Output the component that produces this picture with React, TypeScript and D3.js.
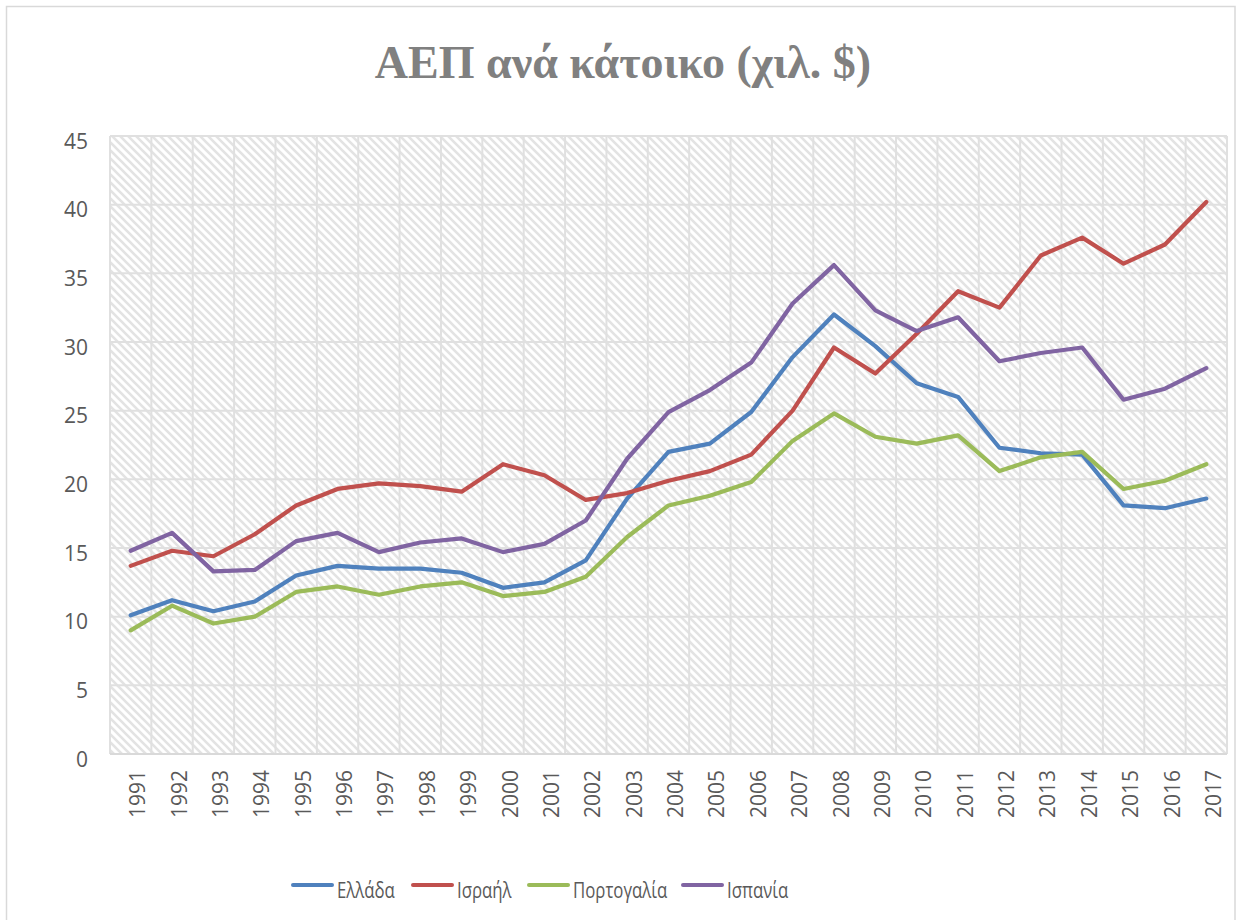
import { useEffect, useRef } from "react";
import * as d3 from "d3";

const years = [
  "1991", "1992", "1993", "1994", "1995", "1996", "1997", "1998", "1999",
  "2000", "2001", "2002", "2003", "2004", "2005", "2006", "2007", "2008",
  "2009", "2010", "2011", "2012", "2013", "2014", "2015", "2016", "2017",
];

const greece = [
  10.1, 11.2, 10.4, 11.1, 13.0, 13.7, 13.5, 13.5, 13.2, 12.1, 12.5, 14.1, 18.6,
  22.0, 22.6, 24.9, 28.9, 32.0, 29.7, 27.0, 26.0, 22.3, 21.9, 21.8, 18.1, 17.9, 18.6,
];
const israel = [
  13.7, 14.8, 14.4, 16.0, 18.1, 19.3, 19.7, 19.5, 19.1, 21.1, 20.3, 18.5, 19.0,
  19.9, 20.6, 21.8, 25.0, 29.6, 27.7, 30.6, 33.7, 32.5, 36.3, 37.6, 35.7, 37.1, 40.2,
];
const portugal = [
  9.0, 10.8, 9.5, 10.0, 11.8, 12.2, 11.6, 12.2, 12.5, 11.5, 11.8, 12.9, 15.8,
  18.1, 18.8, 19.8, 22.8, 24.8, 23.1, 22.6, 23.2, 20.6, 21.6, 22.0, 19.3, 19.9, 21.1,
];
const spain = [
  14.8, 16.1, 13.3, 13.4, 15.5, 16.1, 14.7, 15.4, 15.7, 14.7, 15.3, 17.0, 21.5,
  24.9, 26.5, 28.5, 32.8, 35.6, 32.3, 30.8, 31.8, 28.6, 29.2, 29.6, 25.8, 26.6, 28.1,
];

const yTickValues = [0, 5, 10, 15, 20, 25, 30, 35, 40, 45];

const seriesNames = ["Ελλάδα", "Ισραήλ", "Πορτογαλία", "Ισπανία"];
const seriesValues = [greece, israel, portugal, spain];
const seriesColors = ["#4F81BD", "#C0504D", "#9BBB59", "#8064A2"];

export default function App() {
  const ref = useRef<SVGSVGElement | null>(null);
  const width = 1236;
  const height = 920;

  useEffect(() => {
    const svg = d3.select(ref.current);
    svg.selectAll("*").remove();

    const left = 110;
    const right = 1227;
    const top = 136;
    const bottom = 754;
    const font = "'Open Sans', 'Noto Sans', sans-serif";

    const x = d3.scaleBand<string>().domain(years).range([left, right]);
    const y = d3.scaleLinear().domain([0, 45]).range([bottom, top]);
    const cx = (i: number) => (x(years[i]) ?? 0) + x.bandwidth() / 2;

    // hatch pattern (wide downward diagonal)
    const defs = svg.append("defs");
    const pat = defs
      .append("pattern")
      .attr("id", "hatch")
      .attr("patternUnits", "userSpaceOnUse")
      .attr("width", 8)
      .attr("height", 8);
    pat.append("rect").attr("width", 8).attr("height", 8).attr("fill", "#fff");
    pat
      .append("path")
      .attr("d", "M-2,-2 L10,10 M-2,6 L2,10 M6,-2 L10,2")
      .attr("stroke", "#e3e3e3")
      .attr("stroke-width", 2.6);

    // outer chart border
    svg
      .append("rect")
      .attr("x", 6.5)
      .attr("y", 6.5)
      .attr("width", 1228.5)
      .attr("height", 930)
      .attr("fill", "#fff")
      .attr("stroke", "#d9d9d9")
      .attr("stroke-width", 1.5);

    svg
      .append("text")
      .attr("x", 623)
      .attr("y", 78)
      .attr("text-anchor", "middle")
      .attr("font-family", "'Liberation Serif', 'DejaVu Serif', serif")
      .attr("font-weight", 700)
      .attr("font-size", 46)
      .attr("fill", "#808080")
      .text("ΑΕΠ ανά κάτοικο (χιλ. $)");

    // plot background
    svg
      .append("rect")
      .attr("x", left)
      .attr("y", top)
      .attr("width", right - left)
      .attr("height", bottom - top)
      .attr("fill", "url(#hatch)");

    // gridlines
    const grid = svg.append("g").attr("stroke", "#e0e0e0").attr("stroke-width", 2);
    yTickValues.forEach((v) => {
      grid
        .append("line")
        .attr("x1", left)
        .attr("x2", right)
        .attr("y1", y(v))
        .attr("y2", y(v));
    });
    years.forEach((yr) => {
      const xv = x(yr) ?? 0;
      grid.append("line").attr("x1", xv).attr("x2", xv).attr("y1", top).attr("y2", bottom);
    });
    grid.append("line").attr("x1", right).attr("x2", right).attr("y1", top).attr("y2", bottom);
    svg
      .append("line")
      .attr("x1", left)
      .attr("x2", right)
      .attr("y1", bottom)
      .attr("y2", bottom)
      .attr("stroke", "#d9d9d9")
      .attr("stroke-width", 2);

    // y labels
    svg
      .append("g")
      .selectAll("text")
      .data(yTickValues)
      .enter()
      .append("text")
      .attr("x", 88)
      .attr("y", (d) => y(d) + 5)
      .attr("dy", "0.36em")
      .attr("text-anchor", "end")
      .attr("font-family", font)
      .attr("font-size", 21)
      .attr("fill", "#595959")
      .text((d) => d);

    // x labels
    svg
      .append("g")
      .selectAll("text")
      .data(years)
      .enter()
      .append("text")
      .attr("transform", (_d, i) => `translate(${cx(i) + 7},770) rotate(-90)`)
      .attr("dy", "0.36em")
      .attr("text-anchor", "end")
      .attr("font-family", font)
      .attr("font-size", 21)
      .attr("fill", "#595959")
      .text((d) => d);

    // lines
    const line = d3
      .line<number>()
      .x((_d, i) => cx(i))
      .y((d) => y(d));
    seriesValues.forEach((vals, k) => {
      svg
        .append("path")
        .datum(vals)
        .attr("fill", "none")
        .attr("stroke", seriesColors[k])
        .attr("stroke-width", 4.2)
        .attr("stroke-linejoin", "round")
        .attr("stroke-linecap", "round")
        .attr("d", line);
    });

    // legend
    const legendX = [293, 413, 529, 683];
    seriesNames.forEach((name, k) => {
      const g = svg.append("g").attr("transform", `translate(${legendX[k]},885)`);
      g.append("line")
        .attr("x1", 0)
        .attr("x2", 39)
        .attr("y1", 0)
        .attr("y2", 0)
        .attr("stroke", seriesColors[k])
        .attr("stroke-width", 4)
        .attr("stroke-linecap", "round");
      g.append("text")
        .attr("transform", "translate(44,5) scale(0.8,1)")
        .attr("dy", "0.36em")
        .attr("font-family", font)
        .attr("font-size", 21)
        .attr("fill", "#595959")
        .text(name);
    });
  }, []);

  return (
    <svg
      ref={ref}
      width={width}
      height={height}
      viewBox={`0 0 ${width} ${height}`}
      style={{ position: "absolute", left: 0, top: 0, display: "block" }}
    />
  );
}
